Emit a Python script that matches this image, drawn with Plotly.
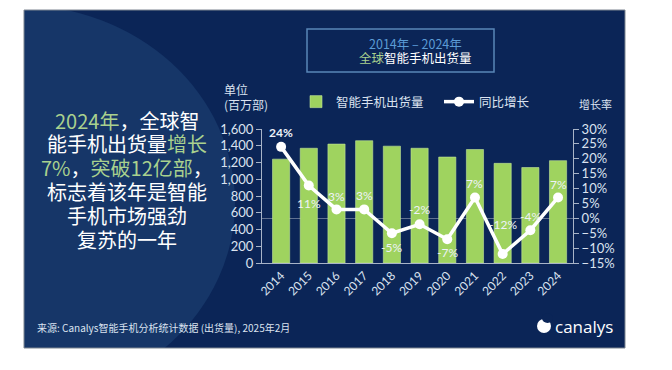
import plotly.graph_objects as go

years = ["2014", "2015", "2016", "2017", "2018", "2019", "2020", "2021", "2022", "2023", "2024"]
shipments = [1240, 1370, 1420, 1460, 1395, 1370, 1265, 1355, 1190, 1140, 1222]
yoy_growth = [24, 11, 3, 3, -5, -2, -7, 7, -12, -4, 7]
yoy_labels = ["<b>24%</b>", "11%", "3%", "3%", "-5%", "-2%", "-7%", "7%", "-12%", "-4%", "7%"]
label_shift = [14, -18, 13, 14, -14, 15, -13, 14, 30, 14, 13]

# page has an 8px body margin: figure occupies screen 8..672 x 8..370
OFF = 8
W, H = 672 - OFF, 370 - OFF
def px(x):
    return (x - OFF) / W
def py(y):
    return 1 - (y - OFF) / H

CJK = "Noto Sans CJK SC"
GREEN = "#9fd35f"
TXT = "#dbe3f0"
BG = "#0b2557"

fig = go.Figure()
fig.add_trace(go.Bar(
    x=years, y=shipments, name="智能手机出货量",
    marker=dict(color=GREEN, line=dict(color="#c3e59a", width=0.6)),
    width=0.62, yaxis="y", hoverinfo="skip"))
fig.add_trace(go.Scatter(
    x=years, y=yoy_growth, name="同比增长", yaxis="y2", mode="lines+markers",
    line=dict(color="white", width=3.5),
    marker=dict(color="white", size=10), hoverinfo="skip"))

shapes = []
shapes.append(dict(type="rect", xref="paper", yref="paper", x0=px(24), x1=px(625), y0=py(348), y1=py(10),
                   fillcolor=BG, line=dict(width=0), layer="below"))
shapes.append(dict(type="circle", xref="paper", yref="paper", x0=px(-200), x1=px(235), y0=py(400), y1=py(5),
                   fillcolor="#163668", line=dict(width=0), layer="below"))
# white masks outside the slide
shapes.append(dict(type="rect", xref="paper", yref="paper", x0=px(-300), x1=px(24), y0=py(500), y1=py(-100),
                   fillcolor="white", line=dict(width=0), layer="below"))
shapes.append(dict(type="rect", xref="paper", yref="paper", x0=px(-300), x1=px(700), y0=py(10), y1=py(-100),
                   fillcolor="white", line=dict(width=0), layer="below"))
shapes.append(dict(type="rect", xref="paper", yref="paper", x0=px(-300), x1=px(700), y0=py(500), y1=py(348),
                   fillcolor="white", line=dict(width=0), layer="below"))
shapes.append(dict(type="rect", xref="paper", yref="paper", x0=px(24), x1=px(625), y0=py(348), y1=py(10),
                   fillcolor="rgba(0,0,0,0)", line=dict(color="#7d8590", width=1), layer="below"))
shapes.append(dict(type="rect", xref="paper", yref="paper", x0=px(307), x1=px(494), y0=py(72), y1=py(29),
                   fillcolor="rgba(0,0,0,0)", line=dict(color="#5a86b8", width=1.5), layer="below"))
# logo mark
shapes.append(dict(type="circle", xref="paper", yref="paper", x0=px(537), x1=px(551), y0=py(333), y1=py(319),
                   fillcolor="white", line=dict(width=0), layer="above"))
shapes.append(dict(type="circle", xref="paper", yref="paper", x0=px(542), x1=px(553), y0=py(323), y1=py(313),
                   fillcolor=BG, line=dict(width=0), layer="above"))

ann = []
for i, (v, t, s) in enumerate(zip(yoy_growth, yoy_labels, label_shift)):
    ann.append(dict(x=i, y=v, xref="x", yref="y2", text=t, showarrow=False, yshift=s,
                    font=dict(family="Lato, " + CJK, size=12, color="#eef2f8")))

def txt(x, y, text, size, color="white", anchor="center", family=CJK):
    ann.append(dict(x=px(x), y=py(y), xref="paper", yref="paper", text=text, showarrow=False,
                    xanchor=anchor, yanchor="middle", font=dict(family=family, size=size, color=color)))

LG = "#a9d18e"
left_lines = [
    f"<span style='color:{LG}'>2024年</span>，全球智",
    f"能手机出货量<span style='color:{LG}'>增长</span>",
    f"<span style='color:{LG}'>7%</span>，<span style='color:{LG}'>突破12亿部</span>，",
    "标志着该年是智能",
    "手机市场强劲",
    "复苏的一年",
]
for t, y in zip(left_lines, [120, 143, 167, 191, 215, 239]):
    txt(127, y, t, 20)

txt(415, 43, "2014年 – 2024年", 12.5, color="#5b9bd5")
txt(415, 58, f"<span style='color:{LG}'>全球</span>智能手机出货量", 12.5)
txt(222, 90, "单位", 12, color=TXT, anchor="left")
txt(222, 104, "(百万部)", 12, color=TXT, anchor="left")
txt(595, 104, "增长率", 11, color=TXT)
txt(35, 327, "来源: Canalys智能手机分析统计数据 (出货量), 2025年2月", 10, color=TXT, anchor="left")
txt(553, 326, "canalys", 17, color="white", anchor="left", family="Open Sans")

fig.update_layout(
    width=W, height=H, margin=dict(l=0, r=0, t=0, b=0, autoexpand=False),
    paper_bgcolor="white", plot_bgcolor="rgba(0,0,0,0)",
    shapes=shapes, annotations=ann,
    showlegend=True,
    legend=dict(orientation="h", x=px(296), y=py(102), xanchor="left", yanchor="middle",
                bgcolor="rgba(0,0,0,0)", font=dict(family=CJK, size=12.5, color=TXT),
                itemwidth=30, entrywidth=98, entrywidthmode="pixels", traceorder="normal"),
    xaxis=dict(domain=[px(262), px(573)], type="category", range=[-0.69, 10.54],
               showline=True, linecolor="#a8b4c8", linewidth=1, ticks="", tickangle=-45,
               tickfont=dict(family="Lato", size=12, color=TXT), showgrid=False, fixedrange=True),
    yaxis=dict(domain=[py(263), py(129)], range=[0, 1600], dtick=200, tickformat=",",
               showline=True, linecolor="#a8b4c8", linewidth=1, ticks="outside", ticklen=5,
               tickcolor="#a8b4c8", showgrid=False, zeroline=False,
               tickfont=dict(family="Lato", size=13, color=TXT)),
    yaxis2=dict(domain=[py(263), py(129)], range=[-15, 30], dtick=5, ticksuffix="%",
                overlaying="y", side="right", anchor="x",
                showline=True, linecolor="#a8b4c8", linewidth=1, ticks="outside", ticklen=5,
                tickcolor="#a8b4c8", showgrid=False, zeroline=True,
                zerolinecolor="rgba(255,255,255,0.35)", zerolinewidth=1,
                tickfont=dict(family="Lato", size=13, color=TXT)),
)

fig.write_html("out.html")
